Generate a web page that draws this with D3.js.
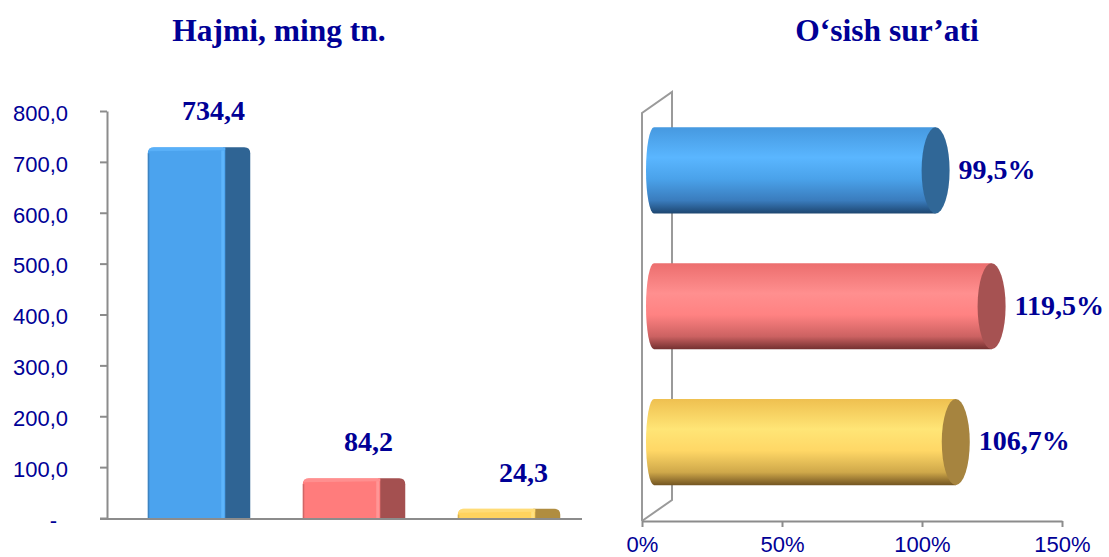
<!DOCTYPE html>
<html lang="en">
<head>
    <meta charset="UTF-8">
    <script src="https://d3js.org/d3.v7.min.js"></script>
    <title>Hajmi va o'sish sur'ati</title>
    <style>
        body { margin: 0; background: white; }
        .title { font-family: "Liberation Serif", "Times New Roman", serif; font-weight: bold; font-size: 31.5px; fill: #000096; }
        .val { font-family: "Liberation Serif", "Times New Roman", serif; font-weight: bold; font-size: 28px; fill: #000096; }
        .axis text { font-family: "Liberation Sans", Arial, sans-serif; font-size: 22px; fill: #000096; }
        .axis path, .axis line { stroke: #8c8c8c; stroke-width: 2px; }
    </style>
</head>
<body>
<script>
    // data
    var categories = ["1", "2", "3"];
    var hajmi = [734.4, 84.2, 24.3];
    var osish = [99.5, 119.5, 106.7];
    var hajmiTicks = [0, 100, 200, 300, 400, 500, 600, 700, 800];
    var osishTicks = [0, 50, 100, 150];

    // colours per category
    var frontCol = ["#4ba3ee", "#ff7c7c", "#ffd35e"];
    var sideCol = ["#2f6494", "#a45050", "#b08d40"];
    var lightCol = ["#62b9ff", "#ff9c9c", "#ffe388"];
    var capCol = ["#306797", "#a65252", "#a6843f"];
    var cylStops = [
        ["#4699e0", "#5ab6ff", "#4aa2ea", "#3a7cbd", "#1d4670"],
        ["#ec6e6e", "#ff8f8f", "#ff8282", "#cc6262", "#733030"],
        ["#efc050", "#ffe576", "#ffd766", "#cfa84a", "#735522"]
    ];

    var svg = d3.select("body").append("svg")
        .attr("width", 1109)
        .attr("height", 557);
    var defs = svg.append("defs");

    cylStops.forEach(function(st, i) {
        var g = defs.append("linearGradient").attr("id", "cyl" + i)
            .attr("x1", 0).attr("y1", 0).attr("x2", 0).attr("y2", 1);
        var offs = [0, 0.35, 0.6, 0.85, 1];
        st.forEach(function(c, j) {
            g.append("stop").attr("offset", offs[j]).attr("stop-color", c);
        });
    });

    // ---------- left chart: Hajmi ----------
    var yScale = d3.scaleLinear().domain([0, 800]).range([518, 111]);
    var xBand = d3.scaleBand().domain(categories).range([109, 574])
        .paddingInner(0.5).paddingOuter(0.25);
    var depth = 25;

    svg.append("text").attr("class", "title")
        .attr("x", 279).attr("y", 41).attr("text-anchor", "middle")
        .text("Hajmi, ming tn.");

    var yAxis = svg.append("g").attr("class", "axis")
        .attr("transform", "translate(107,0)")
        .call(d3.axisLeft(yScale).tickValues(hajmiTicks).tickSize(7).tickSizeOuter(0).tickPadding(32)
            .tickFormat(function(d) {
                return d === 0 ? "-" : d3.format(".1f")(d).replace(".", ",");
            }));
    yAxis.selectAll("text").attr("dy", "0.42em")
        .attr("dx", function(d) { return d === 0 ? -11 : 0; });

    svg.append("line")
        .attr("x1", 100).attr("x2", 582)
        .attr("y1", yScale(0) + 1).attr("y2", yScale(0) + 1)
        .attr("stroke", "#8c8c8c").attr("stroke-width", 2);

    var bars = svg.selectAll(".bar").data(hajmi).enter().append("g").attr("class", "bar");
    bars.each(function(v, i) {
        var g = d3.select(this);
        var x0 = xBand(categories[i]);
        var w = xBand.bandwidth();
        var yt = yScale(v) + 3;
        var yb = yScale(0);
        var r = 6;
        // side face
        g.append("path")
            .attr("d", "M" + (x0 + w - 2) + "," + yb + " L" + (x0 + w - 2) + "," + yt +
                " L" + (x0 + w + depth - r) + "," + yt +
                " Q" + (x0 + w + depth) + "," + yt + " " + (x0 + w + depth) + "," + (yt + r) +
                " L" + (x0 + w + depth) + "," + yb + " Z")
            .attr("fill", sideCol[i]);
        // front face
        g.append("path")
            .attr("d", "M" + x0 + "," + yb + " L" + x0 + "," + (yt + r) +
                " Q" + x0 + "," + yt + " " + (x0 + r) + "," + yt +
                " L" + (x0 + w) + "," + yt + " L" + (x0 + w) + "," + yb + " Z")
            .attr("fill", frontCol[i]);
        // light strip at front edge
        g.append("rect")
            .attr("x", x0 + w - 4).attr("y", yt + 3)
            .attr("width", 3).attr("height", yb - yt - 3)
            .attr("fill", lightCol[i]).attr("opacity", 0.8);
        // top rim
        g.append("path")
            .attr("d", "M" + (x0 + 1) + "," + (yt + 4) + " Q" + (x0 + 1) + "," + yt + " " + (x0 + r) + "," + yt +
                " L" + (x0 + w) + "," + yt + " L" + (x0 + w) + "," + (yt + 3) + " Z")
            .attr("fill", lightCol[i]).attr("opacity", 0.6);
        // left edge shade
        g.append("rect")
            .attr("x", x0).attr("y", yt + r)
            .attr("width", 1.5).attr("height", yb - yt - r)
            .attr("fill", sideCol[i]).attr("opacity", 0.5);
    });

    svg.selectAll(".val1").data(hajmi).enter().append("text").attr("class", "val")
        .attr("text-anchor", "middle")
        .attr("x", function(d, i) { return xBand(categories[i]) + xBand.bandwidth() / 2 + 27; })
        .attr("y", function(d) { return yScale(d) - 24; })
        .text(function(d) { return d3.format(".1f")(d).replace(".", ","); });

    // ---------- right chart: O'sish sur'ati ----------
    var xScale = d3.scaleLinear().domain([0, 150]).range([642, 1062]);
    var yBand = d3.scaleBand().domain(categories).range([102.5, 510])
        .paddingInner(0.366).paddingOuter(0.183);
    var dz = 15;

    svg.append("text").attr("class", "title")
        .attr("x", 887).attr("y", 41).attr("text-anchor", "middle")
        .text("O‘sish sur’ati");

    // wall
    svg.append("path")
        .attr("d", "M642,521 L642,113 L672,92 L672,500 L642,521")
        .attr("fill", "none").attr("stroke", "#9a9a9a").attr("stroke-width", 2);

    var xAxis = svg.append("g").attr("class", "axis")
        .attr("transform", "translate(0,521)")
        .call(d3.axisBottom(xScale).tickValues(osishTicks).tickSize(6).tickSizeOuter(0).tickPadding(9)
            .tickFormat(function(d) { return d + "%"; }));

    var cyl = svg.selectAll(".cyl").data(osish).enter().append("g").attr("class", "cyl");
    cyl.each(function(v, i) {
        var g = d3.select(this);
        var yt = yBand(categories[i]);
        var h = yBand.bandwidth();
        var yb = yt + h;
        var cx0 = xScale(0) + 12;
        var cx1 = xScale(v) + dz;
        var rxL = 8, rxR = 14;
        g.append("path")
            .attr("d", "M" + cx0 + "," + yt + " L" + cx1 + "," + yt + " L" + cx1 + "," + yb +
                " L" + cx0 + "," + yb + " A" + rxL + "," + (h / 2) + " 0 0 1 " + cx0 + "," + yt + " Z")
            .attr("fill", "url(#cyl" + i + ")");
        g.append("ellipse")
            .attr("cx", cx1).attr("cy", yt + h / 2)
            .attr("rx", rxR).attr("ry", h / 2)
            .attr("fill", capCol[i]);
    });

    svg.selectAll(".val2").data(osish).enter().append("text").attr("class", "val")
        .attr("x", function(d) { return xScale(d) + dz + 23; })
        .attr("y", function(d, i) { return yBand(categories[i]) + yBand.bandwidth() / 2; })
        .attr("dy", "0.3em")
        .text(function(d) { return d3.format(".1f")(d).replace(".", ",") + "%"; });
</script>
</body>
</html>
